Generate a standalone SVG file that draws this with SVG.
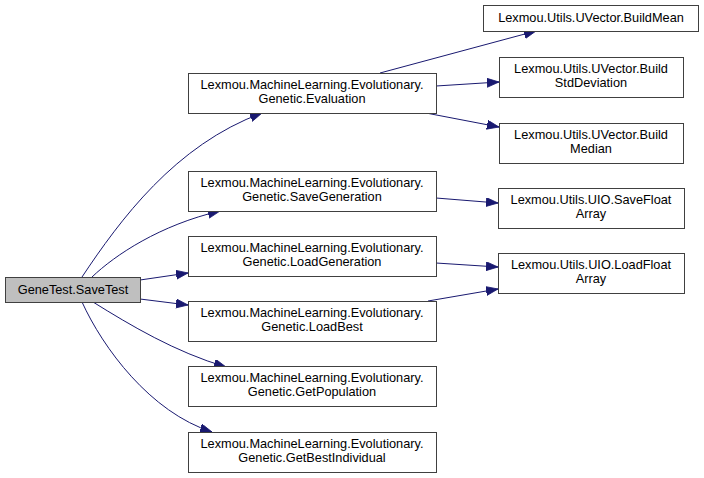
<svg xmlns="http://www.w3.org/2000/svg" width="704" height="478" viewBox="0 0 704 478">
<style>
.n rect{fill:#fff;stroke:#404040;stroke-width:1}
.n.root rect{fill:#bfbfbf}
.n text{font-family:"Liberation Sans",Arial,sans-serif;font-size:12.75px;fill:#000;text-anchor:middle}
.e path{fill:none;stroke:#191970;stroke-width:1}
</style>
<defs>
<marker id="ah" markerUnits="userSpaceOnUse" markerWidth="14" markerHeight="11" refX="12" refY="4.5" orient="auto">
<path d="M0,0 L12,4.5 L0,9 z" fill="#191970" stroke="#191970" stroke-width="0.8"/>
</marker>
</defs>
<rect width="704" height="478" fill="#fff"/>
<g id="edges" class="e">
<path marker-end="url(#ah)" d="M82,277 C120,220 175,145 262,113"/>
<path marker-end="url(#ah)" d="M92,277 C115,255 160,225 220,211"/>
<path marker-end="url(#ah)" d="M140,280 L188,273"/>
<path marker-end="url(#ah)" d="M140,299 L188,305"/>
<path marker-end="url(#ah)" d="M93,302 C130,325 175,352 226,367"/>
<path marker-end="url(#ah)" d="M82,302 C103,348 150,412 212,432"/>
<path marker-end="url(#ah)" d="M380,73 L536,31"/>
<path marker-end="url(#ah)" d="M436,86 L499,82"/>
<path marker-end="url(#ah)" d="M426,113 L499,127"/>
<path marker-end="url(#ah)" d="M436,198 L498,203"/>
<path marker-end="url(#ah)" d="M436,263 L498,267"/>
<path marker-end="url(#ah)" d="M428,301 L498,289"/>
</g>
<g id="n_savetest" class="n root"><rect x="5.5" y="277.5" width="135" height="25"/><text x="73" y="294">GeneTest.SaveTest</text></g>
<g id="n_evaluation" class="n"><rect x="188.5" y="73.5" width="248" height="40"/><text x="312" y="89">Lexmou.MachineLearning.Evolutionary.</text><text x="312" y="103">Genetic.Evaluation</text></g>
<g id="n_savegeneration" class="n"><rect x="188.5" y="171.5" width="248" height="40"/><text x="312" y="187">Lexmou.MachineLearning.Evolutionary.</text><text x="312" y="201">Genetic.SaveGeneration</text></g>
<g id="n_loadgeneration" class="n"><rect x="188.5" y="236.5" width="248" height="40"/><text x="312" y="252">Lexmou.MachineLearning.Evolutionary.</text><text x="312" y="266">Genetic.LoadGeneration</text></g>
<g id="n_loadbest" class="n"><rect x="188.5" y="301.5" width="248" height="40"/><text x="312" y="317">Lexmou.MachineLearning.Evolutionary.</text><text x="312" y="331">Genetic.LoadBest</text></g>
<g id="n_getpopulation" class="n"><rect x="188.5" y="366.5" width="248" height="40"/><text x="312" y="382">Lexmou.MachineLearning.Evolutionary.</text><text x="312" y="396">Genetic.GetPopulation</text></g>
<g id="n_getbestindividual" class="n"><rect x="188.5" y="432.5" width="248" height="40"/><text x="312" y="448">Lexmou.MachineLearning.Evolutionary.</text><text x="312" y="462">Genetic.GetBestIndividual</text></g>
<g id="n_buildmean" class="n"><rect x="483.5" y="5.5" width="215" height="26"/><text x="591" y="22">Lexmou.Utils.UVector.BuildMean</text></g>
<g id="n_buildstddeviation" class="n"><rect x="499.5" y="57.5" width="184" height="40"/><text x="591" y="73">Lexmou.Utils.UVector.Build</text><text x="591" y="87">StdDeviation</text></g>
<g id="n_buildmedian" class="n"><rect x="499.5" y="123.5" width="184" height="40"/><text x="591" y="139">Lexmou.Utils.UVector.Build</text><text x="591" y="153">Median</text></g>
<g id="n_savefloatarray" class="n"><rect x="498.5" y="188.5" width="186" height="40"/><text x="591" y="204">Lexmou.Utils.UIO.SaveFloat</text><text x="591" y="218">Array</text></g>
<g id="n_loadfloatarray" class="n"><rect x="498.5" y="253.5" width="186" height="40"/><text x="591" y="269">Lexmou.Utils.UIO.LoadFloat</text><text x="591" y="283">Array</text></g>
</svg>
